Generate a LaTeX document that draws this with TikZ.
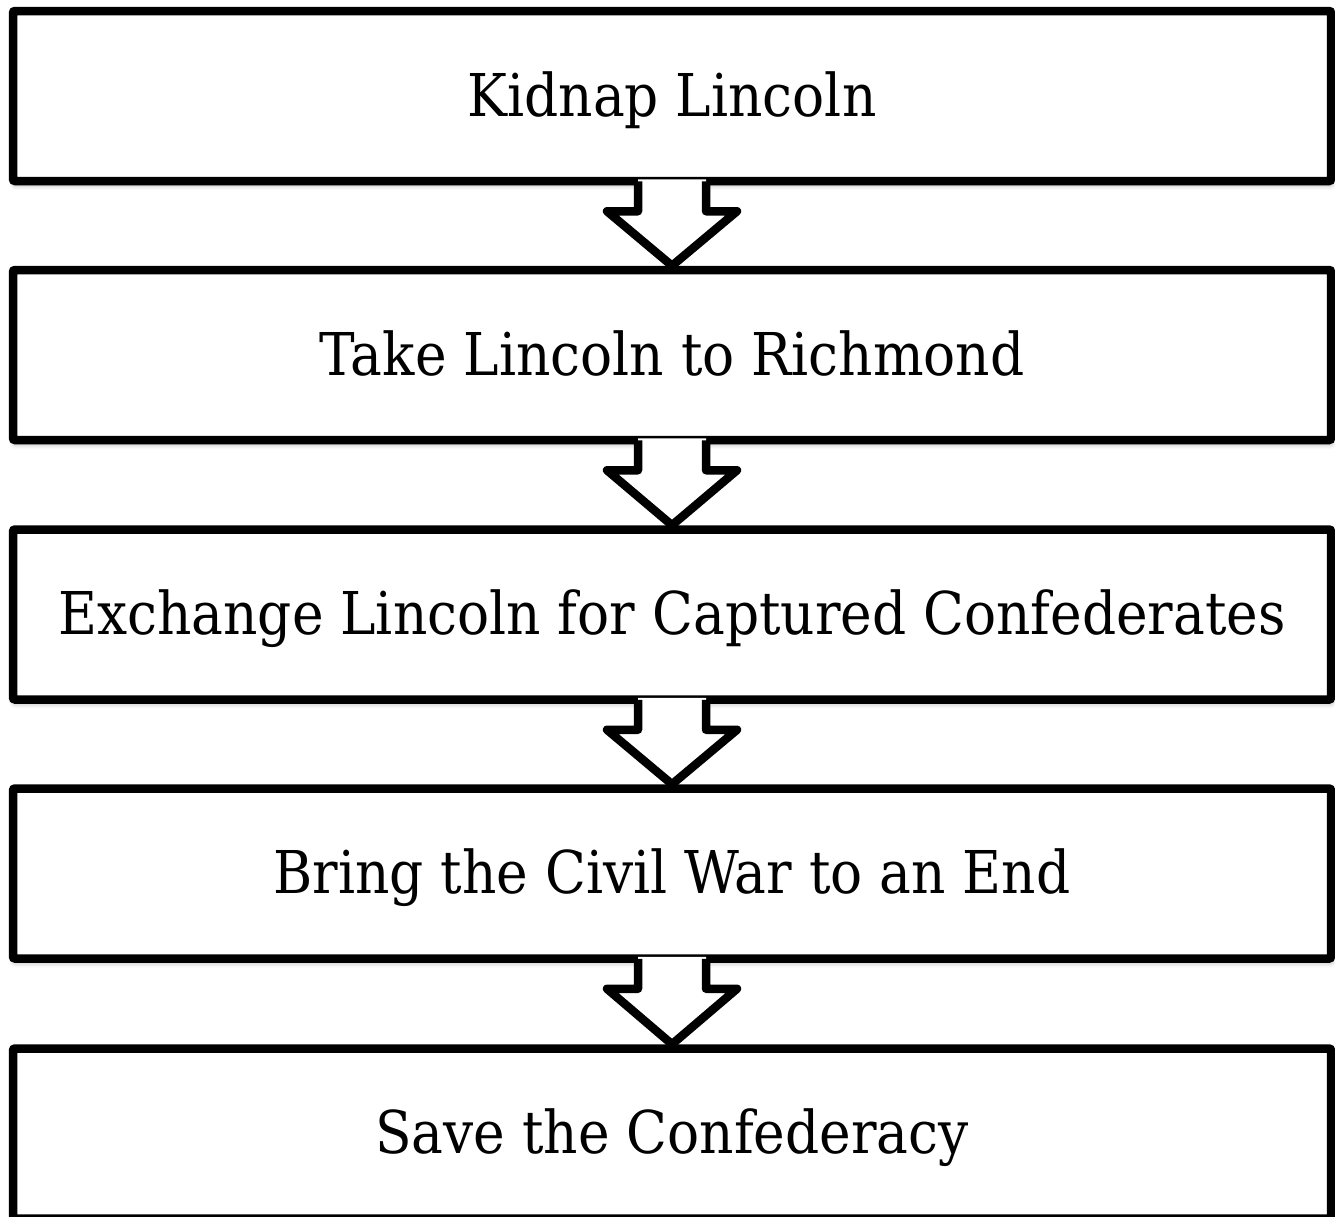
\documentclass[tikz,border=0pt]{standalone}
\usepackage{fontspec}
\setmainfont{DejaVu Serif}[FakeStretch=0.905]
\usetikzlibrary{calc,shadows.blur}
\tikzset{
  stepbox/.style={draw=black, fill=white, line width=8.5pt, rounded corners=2pt,
    minimum width=1318pt, minimum height=170pt, inner sep=0pt,
    text height=40pt, text depth=0pt,
    font=\fontsize{59}{68}\selectfont,
    blur shadow={shadow xshift=1pt, shadow yshift=-4pt, shadow blur radius=5pt, shadow opacity=35}},
  conn/.style={draw=black, line width=8.5pt, line join=round},
}
\newcommand\flowarrow[2]{%
  \fill[white] ($(#1.south)+(-34,-6)$) -- ($(#1.south)+(-34,26)$) -- ($(#1.south)+(-65,26)$) -- (#2.north)
     -- ($(#1.south)+(65,26)$) -- ($(#1.south)+(34,26)$) -- ($(#1.south)+(34,-6)$) -- cycle;
  \draw[conn] ($(#1.south)+(-34,-4)$) -- ($(#1.south)+(-34,26)$) -- ($(#1.south)+(-65,26)$) -- (#2.north)
     -- ($(#1.south)+(65,26)$) -- ($(#1.south)+(34,26)$) -- ($(#1.south)+(34,-4)$);
}
\begin{document}
\begin{tikzpicture}[x=1pt,y=-1pt]
  \useasboundingbox (0,0) rectangle (1335,1216);
  \node[stepbox] (b1) at (672,96) {Kidnap Lincoln};
  \node[stepbox] (b2) at (672,355) {Take Lincoln to Richmond};
  \node[stepbox] (b3) at (672,614.5) {Exchange Lincoln for Captured Confederates};
  \node[stepbox] (b4) at (672,873.5) {Bring the Civil War to an End};
  \node[stepbox] (b5) at (672,1133.5) {Save the Confederacy};
  \flowarrow{b1}{b2}
  \flowarrow{b2}{b3}
  \flowarrow{b3}{b4}
  \flowarrow{b4}{b5}
\end{tikzpicture}
\end{document}
